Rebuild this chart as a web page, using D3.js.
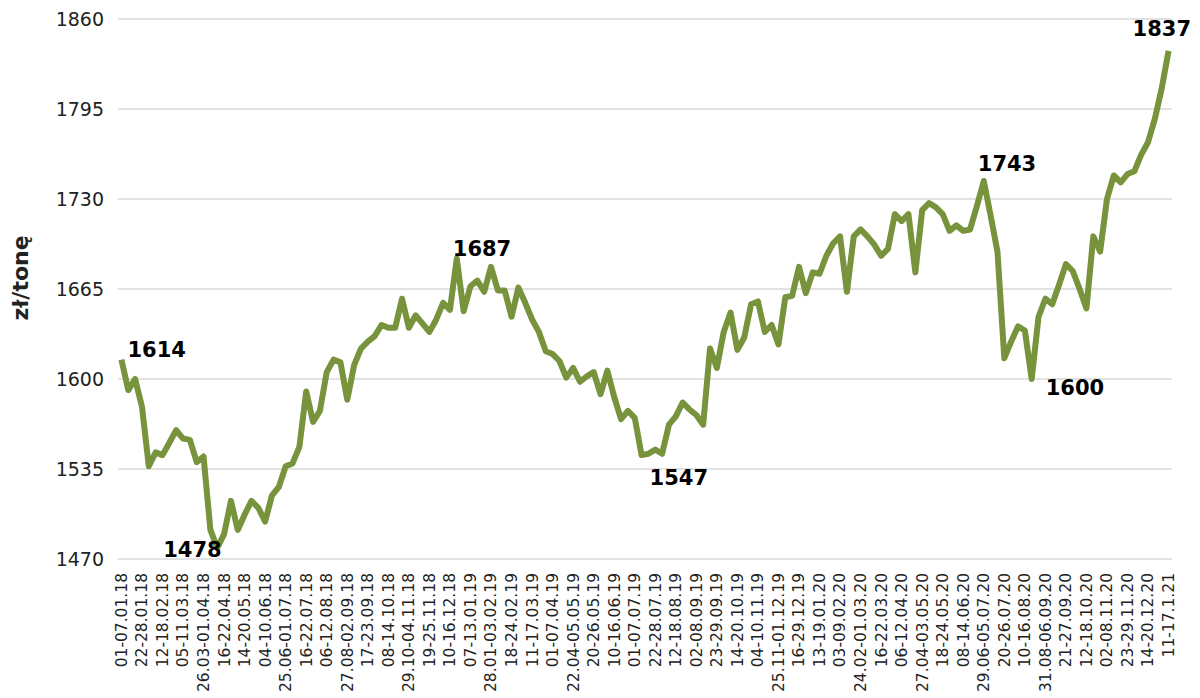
<!DOCTYPE html>
<html>
<head>
<meta charset="utf-8">
<script src="https://cdn.jsdelivr.net/npm/d3@7"></script>
<style>
  body { margin: 0; background: #fff; }
  svg { display: block; font-family: "DejaVu Sans", Verdana, sans-serif; }
</style>
</head>
<body>
<script>
const width = 1200;
const height = 698;

// weekly prices, zł/tonę
const values = [
  1614, 1592, 1600, 1580, 1537, 1547, 1545, 1554, 1563, 1557,
  1556, 1540, 1544, 1491, 1478, 1488, 1512, 1491, 1502, 1512,
  1507, 1497, 1516, 1522, 1537, 1539, 1551, 1591, 1569, 1577,
  1605, 1614, 1612, 1585, 1610, 1622, 1627, 1631, 1639, 1637,
  1637, 1658, 1637, 1646, 1640, 1634, 1643, 1655, 1650, 1687,
  1649, 1667, 1671, 1663, 1681, 1664, 1664, 1645, 1666, 1655,
  1643, 1634, 1620, 1618, 1613, 1601, 1608, 1598, 1602, 1605,
  1589, 1606, 1587, 1571, 1577, 1572, 1545, 1546, 1549, 1546,
  1567, 1573, 1583, 1578, 1574, 1567, 1622, 1608, 1634, 1648,
  1621, 1630, 1654, 1656, 1634, 1639, 1625, 1659, 1660, 1681,
  1662, 1677, 1676, 1689, 1698, 1703, 1663, 1703, 1708, 1703,
  1697, 1689, 1694, 1719, 1714, 1719, 1677, 1722, 1727, 1724,
  1719, 1707, 1711, 1707, 1708, 1725, 1743, 1718, 1692, 1615,
  1627, 1638, 1635, 1600, 1645, 1658, 1654, 1668, 1683, 1678,
  1665, 1651, 1703, 1692, 1730, 1747, 1742, 1748, 1750, 1762,
  1771, 1788, 1810, 1837
];

// every third week is labelled
const tickLabels = [
  "01-07.01.18", "22-28.01.18", "12-18.02.18", "05-11.03.18", "26.03-01.04.18",
  "16-22.04.18", "14-20.05.18", "04-10.06.18", "25.06-01.07.18", "16-22.07.18",
  "06-12.08.18", "27.08-02.09.18", "17-23.09.18", "08-14.10.18", "29.10-04.11.18",
  "19-25.11.18", "10-16.12.18", "07-13.01.19", "28.01-03.02.19", "18-24.02.19",
  "11-17.03.19", "01-07.04.19", "22.04-05.05.19", "20-26.05.19", "10-16.06.19",
  "01-07.07.19", "22-28.07.19", "12-18.08.19", "02-08.09.19", "23-29.09.19",
  "14-20.10.19", "04-10.11.19", "25.11-01.12.19", "16-29.12.19", "13-19.01.20",
  "03-09.02.20", "24.02-01.03.20", "16-22.03.20", "06-12.04.20", "27.04-03.05.20",
  "18-24.05.20", "08-14.06.20", "29.06-05.07.20", "20-26.07.20", "10-16.08.20",
  "31.08-06.09.20", "21-27.09.20", "12-18.10.20", "02-08.11.20", "23-29.11.20",
  "14-20.12.20", "11-17.1.21"
];

const yTicks = [1470, 1535, 1600, 1665, 1730, 1795, 1860];

// highlighted points: index, text
const annIndex = [0, 14, 49, 76, 126, 133, 153];
const annText = ["1614", "1478", "1687", "1547", "1743", "1600", "1837"];
const annOffset = [[6, -3], [-54, 9], [-4, -3], [8, 30], [-6, -10], [14, 16], [-36, -15]];

const svg = d3.select("body").append("svg")
    .attr("width", width)
    .attr("height", height);

const x = d3.scaleBand()
    .domain(d3.range(values.length))
    .range([118, 1172])
    .padding(0);

const y = d3.scaleLinear()
    .domain([1470, 1860])
    .range([559, 19]);

const cx = i => x(i) + x.bandwidth() / 2;

// gridlines
svg.append("g")
    .selectAll("line")
    .data(yTicks)
    .enter()
    .append("line")
    .attr("x1", 118)
    .attr("x2", 1172)
    .attr("y1", d => y(d))
    .attr("y2", d => y(d))
    .style("stroke", "#d9d9d9")
    .style("stroke-width", 1.5);

// y tick labels
svg.append("g")
    .selectAll("text")
    .data(yTicks)
    .enter()
    .append("text")
    .attr("x", 104)
    .attr("y", d => y(d))
    .attr("dy", "0.35em")
    .style("text-anchor", "end")
    .style("font-size", "19px")
    .style("fill", "#222")
    .text(d => d);

// x tick labels, rotated
svg.append("g")
    .selectAll("text")
    .data(tickLabels)
    .enter()
    .append("text")
    .attr("transform", (d, i) => `translate(${cx(i * 3)}, 573) rotate(-90)`)
    .attr("dy", "0.35em")
    .style("text-anchor", "end")
    .style("font-size", "15.5px")
    .style("fill", "#222")
    .text(d => d);

// axis title
svg.append("text")
    .attr("transform", "translate(20, 278) rotate(-90)")
    .attr("dy", "0.35em")
    .style("text-anchor", "middle")
    .style("font-size", "22px")
    .style("font-weight", "bold")
    .style("fill", "#222")
    .text("zł/tonę");

const line = d3.line()
    .x((d, i) => cx(i))
    .y(d => y(d));

svg.append("path")
    .datum(values)
    .attr("d", line)
    .style("fill", "none")
    .style("stroke", "#77933c")
    .style("stroke-width", 6)
    .style("stroke-linejoin", "round");

// data labels
svg.append("g")
    .selectAll("text")
    .data(annIndex)
    .enter()
    .append("text")
    .attr("x", (d, k) => cx(d) + annOffset[k][0])
    .attr("y", (d, k) => y(values[d]) + annOffset[k][1])
    .style("font-size", "21px")
    .style("font-weight", "bold")
    .style("fill", "#000")
    .text((d, k) => annText[k]);
</script>
</body>
</html>
